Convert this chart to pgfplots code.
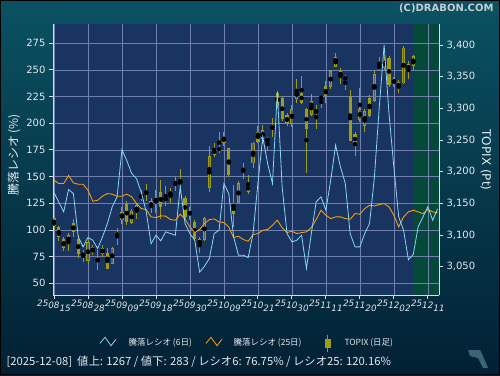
\documentclass[border=0pt]{standalone}
\usepackage{fontspec}
\setmainfont{DejaVu Sans}
\newfontfamily\jp{Noto Sans CJK JP}
\usepackage{pgfplots}
\usepackage{pgfplotstable}
\pgfplotsset{compat=1.18}
\definecolor{plotbg}{RGB}{26,52,98}
\definecolor{greenbg}{RGB}{6,72,58}
\definecolor{gridcol}{RGB}{112,128,172}
\definecolor{axiscol}{RGB}{215,222,235}
\definecolor{labelcol}{RGB}{228,232,240}
\definecolor{cyanl}{RGB}{135,215,245}
\definecolor{orangel}{RGB}{255,162,0}
\definecolor{olivec}{RGB}{156,156,22}
\definecolor{hollowc}{RGB}{84,96,100}
\definecolor{topbg}{RGB}{10,82,98}
\definecolor{midbg}{RGB}{5,48,72}
\definecolor{botbg}{RGB}{2,32,52}
\definecolor{wmark}{RGB}{60,100,120}

\newcommand{\dl}[3]{#1\raisebox{-2pt}{#2}\raisebox{-5pt}{#3}}

\pgfplotstableread{
i o h l c
0 3126.9 3129 3107.9 3114.8
1 3112 3114 3090 3097
2 3094 3097 3074 3080
3 3088 3103 3075 3099.5
4 3119 3126 3097 3104
5 3094 3100 3063 3070
6 3071 3076 3058 3067
7 3059 3092 3055 3088.5
8 3081 3084 3068 3073
9 3059 3076 3045 3062
10 3069.5 3085 3065 3080
11 3071 3079 3046 3047
12 3055 3081 3054 3079
13 3104 3111 3085 3098.5
14 3123 3145 3117 3136
15 3148.5 3153 3116 3120.6
16 3118.5 3141 3117 3138.5
17 3135 3151 3126 3147
18 3159 3171 3153 3163
19 3168 3181 3153 3166
20 3153 3158 3134 3144
21 3153 3171 3135 3157
22 3168.5 3187 3125 3145
23 3153 3177 3146 3160.6
24 3162 3174 3150 3168.5
25 3183 3192 3170 3181
26 3181 3204 3166 3185
27 3158 3161 3126 3129
28 3133 3145 3124 3136
29 3121 3124 3091 3093
30 3093 3097 3071 3085
31 3092 3129 3091 3127
32 3174 3240 3168.5 3224
33 3237 3246 3223 3226
34 3238.5 3262 3230 3233
35 3246 3263 3241 3255
36 3237 3238 3191 3195
37 3150 3179 3113 3133
38 3150 3185 3149 3182
39 3204 3214 3188.5 3202
40 3179 3195 3165 3168.5
41 3213 3247 3206 3246
42 3263 3272 3245 3247
43 3251 3273 3244 3266
44 3247 3255 3232 3253
45 3271 3284 3255 3268.5
46 3303 3327 3301 3324
47 3316 3318.5 3280 3283
48 3289.5 3292 3272 3276
49 3276 3305 3271 3298.5
50 3314 3346 3309 3330
51 3325 3351 3307 3308
52 3298.5 3301 3198.5 3267
53 3289.5 3323 3288.5 3311.6
54 3293 3305 3267 3297
55 3317.4 3319.5 3301 3315.8
56 3335 3343 3308 3319.5
57 3334 3360.6 3331 3359
58 3366 3387 3365 3380.6
59 3349 3364 3338.5 3359
60 3349 3352 3329 3346
61 3320 3329 3248.5 3249
62 3259 3262 3225 3244
63 3282 3332 3279 3298.5
64 3272 3298.5 3263 3296
65 3316 3321 3287 3288
66 3312 3359.5 3310.6 3354
67 3367 3380.6 3360.6 3364
68 3363 3383 3360.6 3377
69 3379 3383 3334 3337
70 3347 3350 3334 3338.5
71 3341 3344 3325 3333
72 3339.5 3398.5 3338 3396
73 3369.5 3374 3347 3360.6
74 3367 3385 3360.6 3383
}\candles

\pgfplotstableread{
i r6 r25
0 135.0 146.6
1 126 143.5
2 116.9 143.5
3 137.8 151
4 134.1 144.1
5 93.5 142.8
6 84.1 142.8
7 92.9 137.2
8 90.3 126.9
9 82.5 127.8
10 93.5 131.6
11 106 134.1
12 121.6 133.5
13 131 131.6
14 175.3 131.6
15 165 133.5
16 153 131
17 148 124.7
18 135 120
19 117 119.1
20 87 112.2
21 95 111.6
22 89.7 113.2
23 98.2 112.9
24 96.6 109.7
25 95 109.1
26 140.3 114.7
27 106 110
28 96.6 102.8
29 90.3 97.5
30 60.4 100.4
31 66 106
32 73.2 109.7
33 96.6 110.3
34 99.7 107.5
35 143.5 106.9
36 134.1 102.8
37 93.5 92.9
38 76.3 94.1
39 76.3 91
40 74.1 89.4
41 96.6 95.6
42 143.5 96.6
43 187.2 99.7
44 162.2 100.4
45 143.5 104.4
46 229.4 109.1
47 140 102
48 96.6 97.5
49 88.8 98.8
50 90.3 96.6
51 95 97.5
52 63.8 98.2
53 96.6 102.2
54 126.3 109.7
55 131 118.5
56 118.5 113.8
57 146.6 110.6
58 179.4 112.2
59 159.1 112.2
60 143.5 110.6
61 96.6 110
62 84.1 115.3
63 84.1 114.7
64 96.6 120
65 106 123.1
66 149.7 122.5
67 215.3 123.8
68 273.2 124.7
69 209.1 121.6
70 159.1 113.8
71 112.2 102.8
72 99.7 112.2
73 72 116.9
74 77 118.5
75 102.8 116.9
76 112.2 115.3
77 121.6 119.1
78 109.1 116.9
79 119.7 116
}\ratios

\begin{document}
\begin{tikzpicture}[x=1pt,y=1pt]
\shade[top color=topbg, middle color=midbg, bottom color=botbg] (0,0) rectangle (500,375);
\draw[black, line width=1pt] (0.5,0.5) rectangle (499.5,374.5);

% axis A: background, grid, left axis
\begin{axis}[
  at={(53pt,80pt)}, anchor=south west, scale only axis,
  width=386pt, height=271pt,
  xmin=-0.2, xmax=79.3, ymin=39, ymax=293,
  axis background/.style={fill=plotbg},
  axis on top,
  axis lines*=left,
  axis line style={axiscol, line width=1pt},
  grid=major, major grid style={gridcol, line width=0.6pt},
  xtick={0,7,...,77},
  xticklabels={\dl{25}{08}{15},\dl{25}{08}{28},\dl{25}{09}{09},\dl{25}{09}{18},\dl{25}{09}{30},\dl{25}{10}{09},\dl{25}{10}{21},\dl{25}{10}{30},\dl{25}{11}{11},\dl{25}{11}{20},\dl{25}{12}{02},\dl{25}{12}{11}},
  ytick={50,75,...,275},
  tick style={axiscol, line width=0.8pt},
  major tick length=4pt,
  tick align=outside,
  /pgf/number format/assume math mode=true,
  yticklabel style={text=labelcol, font=\fontsize{10}{11}\selectfont},
  xticklabel style={text=labelcol, inner sep=0pt, yshift=-1pt, font=\itshape\fontsize{8.8}{10}\selectfont},
]
\addplot[draw=none, fill=greenbg] coordinates {(74.2,39) (79.3,39) (79.3,293) (74.2,293)} -- cycle;
\end{axis}

% axis B: TOPIX candles, right axis
\begin{axis}[
  at={(53pt,80pt)}, anchor=south west, scale only axis,
  width=386pt, height=271pt,
  xmin=-0.2, xmax=79.3, ymin=3005.3, ymax=3433.2,
  axis x line=none, axis y line*=right,
  axis line style={axiscol, line width=1pt},
  ytick={3050,3100,...,3400},
  tick style={axiscol, line width=0.8pt},
  major tick length=4pt,
  tick align=outside,
  /pgf/number format/assume math mode=true,
  /pgf/number format/1000 sep={,},
  yticklabel style={text=labelcol, font=\fontsize{10}{11}\selectfont},
]
\addplot[only marks, mark=none,
  error bars/.cd, y dir=both, y explicit, error mark=none,
  error bar style={draw=olivec, line width=0.9pt}]
  table[x=i, y expr={(\thisrow{h}+\thisrow{l})/2}, y error expr={(\thisrow{h}-\thisrow{l})/2}] {\candles};
\addplot[only marks, mark=none,
  error bars/.cd, y dir=both, y explicit, error mark=none,
  error bar style={draw=olivec, line width=3.2pt}]
  table[x=i, y expr={(\thisrow{o}+\thisrow{c})/2}, y error expr={max(abs(\thisrow{o}-\thisrow{c})/2,0.8)}] {\candles};
\addplot[only marks, mark=none,
  restrict expr to domain={\thisrow{c}-\thisrow{o}}{3:10000},
  error bars/.cd, y dir=both, y explicit, error mark=none,
  error bar style={draw=hollowc, line width=1.5pt}]
  table[x=i, y expr={(\thisrow{o}+\thisrow{c})/2}, y error expr={abs(\thisrow{o}-\thisrow{c})/2-1.3}] {\candles};
\end{axis}

% axis C: ratio lines
\begin{axis}[
  at={(53pt,80pt)}, anchor=south west, scale only axis,
  width=386pt, height=271pt,
  xmin=-0.2, xmax=79.3, ymin=39, ymax=293,
  hide axis,
]
\addplot[orangel, line width=0.85pt, mark=none] table[x=i, y=r25] {\ratios};
\addplot[cyanl, line width=0.8pt, mark=none] table[x=i, y=r6] {\ratios};
\end{axis}

% axis titles
\node[rotate=90, text=labelcol, font=\jp\fontsize{12}{12}\selectfont] at (14,220) {騰落レシオ (\%)};
\node[rotate=-90, text=labelcol, font=\fontsize{12}{12}\selectfont] at (486,215) {TOPIX (Pt)};

% copyright
\node[anchor=east, text={rgb,255:red,200;green,205;blue,212}, font=\bfseries\fontsize{10}{10}\selectfont] at (497,367) {(C)DRABON.COM};

% legend
\draw[cyanl, line width=0.8pt] (100,31.7) -- (105,37.7) -- (111,29.3) -- (116,35.7);
\node[anchor=west, text=labelcol, font=\jp\fontsize{8.5}{9}\selectfont] at (125,32) {騰落レシオ (6日)};
\draw[orangel, line width=0.8pt] (206,31.7) -- (211,37.7) -- (217,29.3) -- (222,35.7);
\node[anchor=west, text=labelcol, font=\jp\fontsize{8.5}{9}\selectfont] at (230,32) {騰落レシオ (25日)};
\draw[olivec, line width=0.9pt] (327.8,23) -- (327.8,40);
\fill[olivec] (324.5,27) rectangle (331,36);
\node[anchor=west, text=labelcol, font=\jp\fontsize{8.5}{9}\selectfont] at (341,32) {TOPIX (日足)};

% status line
\node[anchor=west, text=labelcol, font=\jp\fontsize{11.3}{12}\selectfont] at (3,13) {[2025-12-08]\ \ 値上: 1267 / 値下: 283 / レシオ6: 76.75\% / レシオ25: 120.16\%};

% small logo at bottom right
\fill[wmark] (468,25) -- (480,25) -- (482,21) -- (488,7) -- (483,7) -- (478,17) -- (470,19) -- cycle;

\pgfresetboundingbox
\path[use as bounding box] (0,0) rectangle (500,375);
\end{tikzpicture}
\end{document}
